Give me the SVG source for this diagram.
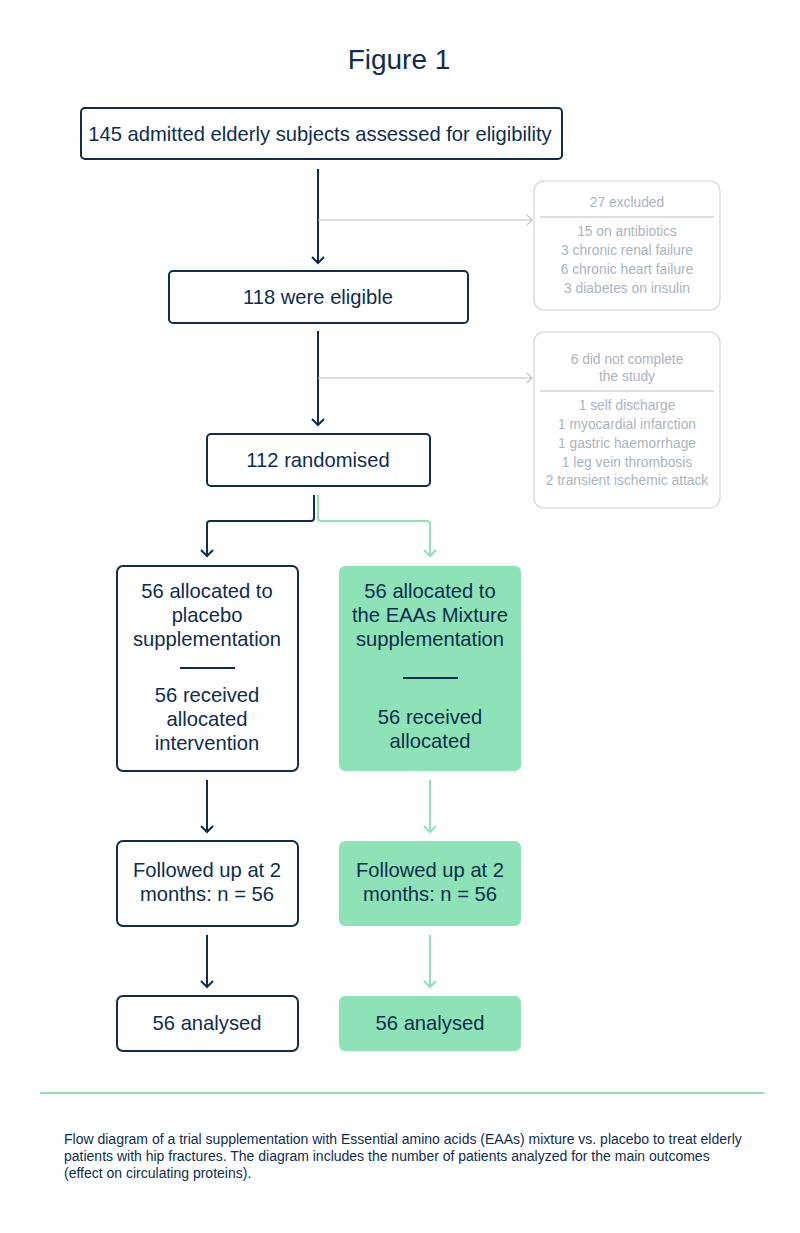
<svg xmlns="http://www.w3.org/2000/svg" width="800" height="1233" viewBox="0 0 800 1233">
<defs>
<style>
.t{font-family:"Liberation Sans",Arial,sans-serif;fill:#0e2d4f;text-anchor:middle}
.m{font-size:20.2px}
.g{font-family:"Liberation Sans",Arial,sans-serif;fill:#abb4be;text-anchor:middle;font-size:13.8px}
.nb{fill:#fff;stroke:#0e2d4f;stroke-width:2}
.gb{fill:#8de3b7;stroke:none}
.xb{fill:#fff;stroke:#cdd3da;stroke-width:1.2}
.nl{fill:none;stroke:#0e2d4f;stroke-width:2}
.gl{fill:none;stroke:#8de3b7;stroke-width:2}
.sl{fill:none;stroke:#b9c1ca;stroke-width:1.2}
</style>
<marker id="an" markerUnits="userSpaceOnUse" viewBox="-8 -8 16 16" refX="0" refY="0" markerWidth="16" markerHeight="16" orient="auto">
<path d="M-6,-6 L0,0 L-6,6" fill="none" stroke="#0e2d4f" stroke-width="2"/>
</marker>
<marker id="ag" markerUnits="userSpaceOnUse" viewBox="-8 -8 16 16" refX="0" refY="0" markerWidth="16" markerHeight="16" orient="auto">
<path d="M-6,-6 L0,0 L-6,6" fill="none" stroke="#8de3b7" stroke-width="2"/>
</marker>
<marker id="as" markerUnits="userSpaceOnUse" viewBox="-8 -8 16 16" refX="0" refY="0" markerWidth="16" markerHeight="16" orient="auto">
<path d="M-5,-5 L0,0 L-5,5" fill="none" stroke="#b9c1ca" stroke-width="1.2"/>
</marker>
</defs>
<rect width="800" height="1233" fill="#fff"/>
<text class="t" x="399" y="69" font-size="28">Figure 1</text>

<g id="connectors">
<line class="nl" x1="318" y1="169" x2="318" y2="263" marker-end="url(#an)"/>
<line class="sl" x1="318" y1="220" x2="532" y2="220" marker-end="url(#as)"/>
<line class="nl" x1="318" y1="331" x2="318" y2="425" marker-end="url(#an)"/>
<line class="sl" x1="318" y1="378" x2="532" y2="378" marker-end="url(#as)"/>
<path class="nl" d="M314,495 V518 Q314,521 311,521 H210 Q207,521 207,524 V556" marker-end="url(#an)"/>
<path class="gl" d="M318,495 V518 Q318,521 321,521 H427 Q430,521 430,524 V556" marker-end="url(#ag)"/>
<line class="nl" x1="207" y1="780" x2="207" y2="832" marker-end="url(#an)"/>
<line class="gl" x1="430" y1="780" x2="430" y2="832" marker-end="url(#ag)"/>
<line class="nl" x1="207" y1="935" x2="207" y2="987" marker-end="url(#an)"/>
<line class="gl" x1="430" y1="935" x2="430" y2="987" marker-end="url(#ag)"/>
</g>

<g id="n-assessed">
<rect class="nb" x="81" y="108" width="481" height="51" rx="4"/>
<text class="t m" x="320" y="141">145 admitted elderly subjects assessed for eligibility</text>
</g>

<g id="n-excluded">
<rect class="xb" x="534" y="181" width="186" height="129" rx="10"/>
<text class="g" x="627" y="207" font-size="14.8">27 excluded</text>
<line x1="540" y1="217" x2="714" y2="217" stroke="#b9c1ca" stroke-width="1.2"/>
<text class="g" x="627" y="236">15 on antibiotics</text>
<text class="g" x="627" y="255">3 chronic renal failure</text>
<text class="g" x="627" y="274">6 chronic heart failure</text>
<text class="g" x="627" y="293">3 diabetes on insulin</text>
</g>

<g id="n-eligible">
<rect class="nb" x="169" y="271" width="299" height="52" rx="4"/>
<text class="t m" x="318" y="304">118 were eligible</text>
</g>

<g id="n-notcomplete">
<rect class="xb" x="534" y="332" width="186" height="176" rx="10"/>
<text class="g" x="627" y="364" font-size="14.8">6 did not complete</text>
<text class="g" x="627" y="381" font-size="14.8">the study</text>
<line x1="540" y1="391" x2="714" y2="391" stroke="#b9c1ca" stroke-width="1.2"/>
<text class="g" x="627" y="410">1 self discharge</text>
<text class="g" x="627" y="429">1 myocardial infarction</text>
<text class="g" x="627" y="448">1 gastric haemorrhage</text>
<text class="g" x="627" y="467">1 leg vein thrombosis</text>
<text class="g" x="627" y="485">2 transient ischemic attack</text>
</g>

<g id="n-randomised">
<rect class="nb" x="207" y="434" width="223" height="52" rx="4"/>
<text class="t m" x="318" y="467">112 randomised</text>
</g>

<g id="n-placebo">
<rect class="nb" x="117" y="566" width="181" height="205" rx="6"/>
<text class="t m" x="207" y="598">56 allocated to</text>
<text class="t m" x="207" y="622">placebo</text>
<text class="t m" x="207" y="646">supplementation</text>
<line x1="180" y1="668" x2="235" y2="668" stroke="#0e2d4f" stroke-width="2"/>
<text class="t m" x="207" y="702">56 received</text>
<text class="t m" x="207" y="726">allocated</text>
<text class="t m" x="207" y="750">intervention</text>
</g>

<g id="n-eaa">
<rect class="gb" x="339" y="566" width="182" height="205" rx="6"/>
<text class="t m" x="430" y="598">56 allocated to</text>
<text class="t m" x="430" y="622">the EAAs Mixture</text>
<text class="t m" x="430" y="646">supplementation</text>
<line x1="403" y1="678" x2="458" y2="678" stroke="#0e2d4f" stroke-width="2"/>
<text class="t m" x="430" y="724">56 received</text>
<text class="t m" x="430" y="748">allocated</text>
</g>

<g id="n-follow-placebo">
<rect class="nb" x="117" y="841" width="181" height="85" rx="6"/>
<text class="t m" x="207" y="877">Followed up at 2</text>
<text class="t m" x="207" y="901">months: n = 56</text>
</g>

<g id="n-follow-eaa">
<rect class="gb" x="339" y="841" width="182" height="85" rx="6"/>
<text class="t m" x="430" y="877">Followed up at 2</text>
<text class="t m" x="430" y="901">months: n = 56</text>
</g>

<g id="n-analysed-placebo">
<rect class="nb" x="117" y="996" width="181" height="55" rx="6"/>
<text class="t m" x="207" y="1030">56 analysed</text>
</g>

<g id="n-analysed-eaa">
<rect class="gb" x="339" y="996" width="182" height="55" rx="6"/>
<text class="t m" x="430" y="1030">56 analysed</text>
</g>

<line x1="40" y1="1093" x2="764" y2="1093" stroke="#8de3b7" stroke-width="2"/>
<g font-family="'Liberation Sans',Arial,sans-serif" font-size="14" fill="#0e2d4f">
<text x="64" y="1144">Flow diagram of a trial supplementation with Essential amino acids (EAAs) mixture vs. placebo to treat elderly</text>
<text x="64" y="1161">patients with hip fractures. The diagram includes the number of patients analyzed for the main outcomes</text>
<text x="64" y="1178">(effect on circulating proteins).</text>
</g>
</svg>
